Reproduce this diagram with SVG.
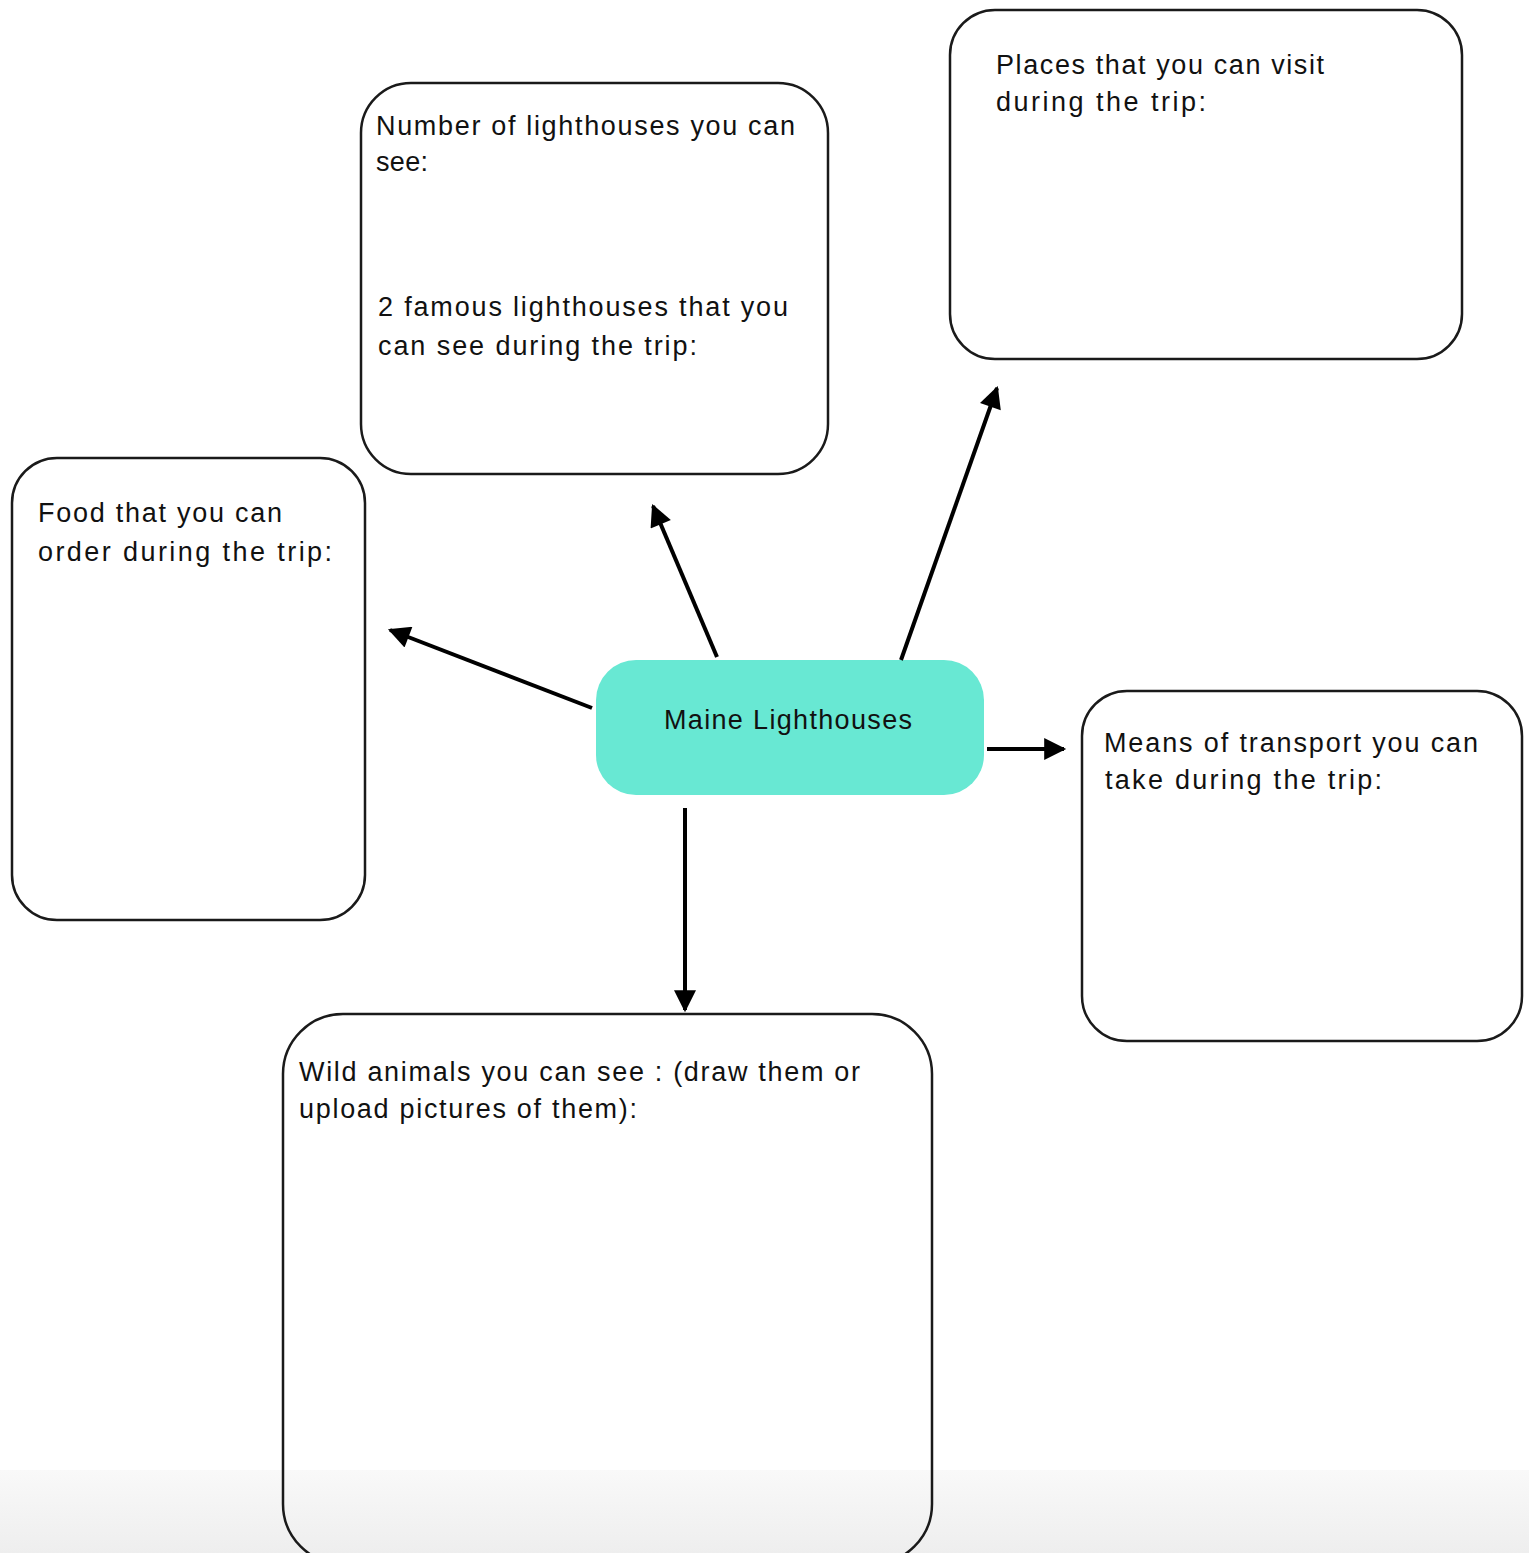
<svg xmlns="http://www.w3.org/2000/svg" width="1529" height="1553" viewBox="0 0 1529 1553">
<defs>
<linearGradient id="bg" x1="0" y1="0" x2="0" y2="1">
<stop offset="0" stop-color="#f9f9f9"/>
<stop offset="1" stop-color="#eeeeee"/>
</linearGradient>
<marker id="ah" viewBox="0 0 10 10" refX="9" refY="5" markerWidth="6" markerHeight="5.5" markerUnits="strokeWidth" orient="auto">
<path d="M0,0 L10,5 L0,10 z" fill="#000"/>
</marker>
<style>
.box{fill:none;stroke:#1a1a1a;stroke-width:2.5}
.t{font-family:"Liberation Sans",Arial,sans-serif;font-size:27px;fill:#111}
.c{stroke:#000;stroke-width:4;fill:none;marker-end:url(#ah)}
</style>
</defs>
<rect x="0" y="0" width="1529" height="1553" fill="#fff"/>
<rect x="0" y="1470" width="1529" height="83" fill="url(#bg)"/>
<g id="node-number">
<rect class="box" x="361" y="83" width="467" height="391" rx="50"/>
<text class="t" x="376" y="135" textLength="419" lengthAdjust="spacing">Number of lighthouses you can</text>
<text class="t" x="376" y="171" textLength="52" lengthAdjust="spacing">see:</text>
<text class="t" x="378" y="316" textLength="410" lengthAdjust="spacing">2 famous lighthouses that you</text>
<text class="t" x="378" y="355" textLength="319" lengthAdjust="spacing">can see during the trip:</text>
</g>
<g id="node-places">
<rect class="box" x="950" y="10" width="512" height="349" rx="45"/>
<text class="t" x="996" y="74" textLength="328" lengthAdjust="spacing">Places that you can visit</text>
<text class="t" x="996" y="111" textLength="210" lengthAdjust="spacing">during the trip:</text>
</g>
<g id="node-food">
<rect class="box" x="12" y="458" width="353" height="462" rx="45"/>
<text class="t" x="38" y="522" textLength="244" lengthAdjust="spacing">Food that you can</text>
<text class="t" x="38" y="561" textLength="294" lengthAdjust="spacing">order during the trip:</text>
</g>
<g id="node-center">
<rect x="596" y="660" width="388" height="135" rx="40" fill="#68e8d3"/>
<text class="t" x="664" y="729" textLength="248" lengthAdjust="spacing">Maine Lighthouses</text>
</g>
<g id="node-transport">
<rect class="box" x="1082" y="691" width="440" height="350" rx="45"/>
<text class="t" x="1104" y="752" textLength="374" lengthAdjust="spacing">Means of transport you can</text>
<text class="t" x="1105" y="789" textLength="277" lengthAdjust="spacing">take during the trip:</text>
</g>
<g id="node-animals">
<rect class="box" x="283" y="1014" width="649" height="550" rx="60"/>
<text class="t" x="299" y="1081" textLength="561" lengthAdjust="spacing">Wild animals you can see : (draw them or</text>
<text class="t" x="299" y="1118" textLength="338" lengthAdjust="spacing">upload pictures of them):</text>
</g>
<g id="connectors">
<line class="c" x1="592" y1="708" x2="390" y2="630"/>
<line class="c" x1="717" y1="657" x2="653" y2="506"/>
<line class="c" x1="901" y1="660" x2="997" y2="388"/>
<line class="c" x1="987" y1="749" x2="1064" y2="749"/>
<line class="c" x1="685" y1="808" x2="685" y2="1010"/>
</g>
</svg>
